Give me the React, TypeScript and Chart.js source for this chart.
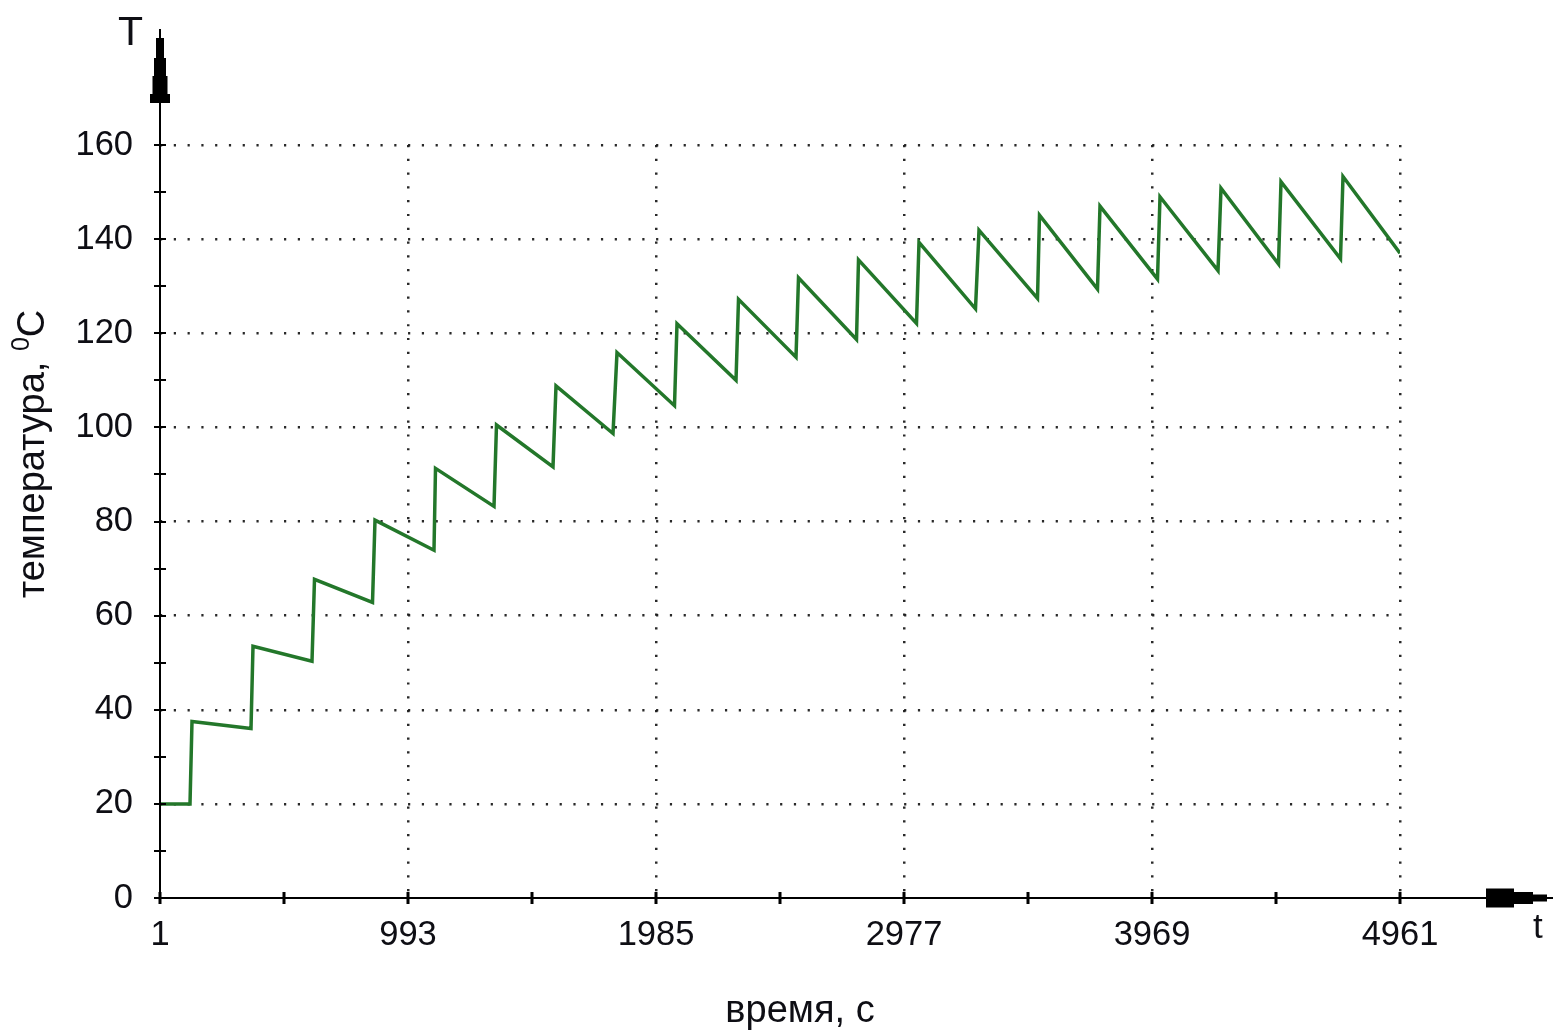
import React, { useEffect, useRef } from 'react';
import { Chart, registerables } from 'chart.js';

Chart.register(...registerables);

// Heating curve: time in seconds and temperature in °C (peaks and troughs of each heating pulse)
const timeSec = [
  1, 121, 129, 365, 373, 609, 619, 851, 861, 1097, 1103, 1337, 1347, 1573, 1585, 1813,
  1829, 2059, 2069, 2305, 2315, 2545, 2555, 2787, 2795, 3027, 3037, 3263, 3277, 3511,
  3519, 3751, 3761, 3991, 4001, 4233, 4245, 4475, 4485, 4723, 4733, 4961,
];
const tempC = [
  20, 20, 37.5, 36.0, 53.5, 50.3, 67.7, 62.8, 80.3, 73.9, 91.3, 83.2, 100.5, 91.6, 108.8, 98.7,
  115.9, 104.6, 122.0, 110.0, 127.2, 114.9, 131.8, 118.7, 135.6, 122.1, 139.3, 125.2, 141.9, 127.4,
  145.1, 129.4, 147.0, 131.5, 149.0, 133.3, 150.8, 134.7, 152.2, 135.8, 153.3, 137.0,
];

const xTickLabels = [1, 993, 1985, 2977, 3969, 4961];
const xMinorStep = 496;
const yTickLabels = [0, 20, 40, 60, 80, 100, 120, 140, 160];
const yMinorStep = 10;

const xTitle = 'время, с';
const yTitleMain = 'температура, ';
const yTitleSup = '0';
const yTitleUnit = 'C';
const yArrowLabel = 'T';
const xArrowLabel = 't';

const FONT = '"Liberation Sans", Arial, sans-serif';
const TEXT_COLOR = '#0e0e14';
const GRID_COLOR = 'rgba(30,30,30,0.95)';

const arrowAxesPlugin = {
  id: 'arrowAxes',
  afterDatasetsDraw(chart: any) {
    const { ctx, scales } = chart;
    const xs = scales.x;
    const ys = scales.y;
    const x0 = Math.round(xs.getPixelForValue(1));
    const y0 = Math.round(ys.getPixelForValue(0));
    ctx.save();
    ctx.strokeStyle = '#000';
    ctx.fillStyle = '#000';
    ctx.lineWidth = 2;

    // axis lines
    ctx.beginPath();
    ctx.moveTo(x0, y0);
    ctx.lineTo(x0, 29);
    ctx.moveTo(x0, y0);
    ctx.lineTo(1553, y0);
    ctx.stroke();

    // stepped arrow heads
    const ySteps = [
      [38, 58, 8],
      [58, 76, 12],
      [76, 94, 15],
      [94, 103, 20],
    ];
    ySteps.forEach(([a, b, w]) => ctx.fillRect(x0 - w / 2, a, w, b - a));
    const xSteps = [
      [1486, 1514, 19],
      [1514, 1533, 12],
      [1533, 1547, 7],
    ];
    xSteps.forEach(([a, b, h]) => ctx.fillRect(a, y0 - h / 2, b - a, h));

    // tick marks crossing the axes
    ctx.lineWidth = 2;
    ctx.beginPath();
    for (let v = 0; v <= 160; v += yMinorStep) {
      const py = Math.round(ys.getPixelForValue(v));
      ctx.moveTo(x0 - 6, py);
      ctx.lineTo(x0 + 6, py);
    }
    ctx.stroke();
    ctx.lineWidth = 3;
    ctx.beginPath();
    for (let t = 1; t <= 4961; t += xMinorStep) {
      const px = Math.round(xs.getPixelForValue(t));
      ctx.moveTo(px, y0 - 6);
      ctx.lineTo(px, y0 + 6);
    }
    ctx.stroke();

    // arrow letters
    ctx.fillStyle = TEXT_COLOR;
    ctx.textBaseline = 'alphabetic';
    ctx.textAlign = 'left';
    ctx.font = `41px ${FONT}`;
    ctx.fillText(yArrowLabel, 118, 45);
    ctx.font = `35px ${FONT}`;
    ctx.fillText(xArrowLabel, 1533, 938);

    // x title
    ctx.font = `38px ${FONT}`;
    ctx.textAlign = 'center';
    ctx.fillText(xTitle, 800, 1022);

    // y title, rotated, with superscript degree zero
    const mainFont = `38px ${FONT}`;
    const supFont = `25px ${FONT}`;
    ctx.font = mainFont;
    const wMain = ctx.measureText(yTitleMain).width;
    const wUnit = ctx.measureText(yTitleUnit).width;
    ctx.font = supFont;
    const wSup = ctx.measureText(yTitleSup).width;
    const total = wMain + wSup + wUnit;
    ctx.translate(44, 454);
    ctx.rotate(-Math.PI / 2);
    ctx.textAlign = 'left';
    let cx = -total / 2;
    ctx.font = mainFont;
    ctx.fillText(yTitleMain, cx, 0);
    cx += wMain;
    ctx.font = supFont;
    ctx.fillText(yTitleSup, cx, -15);
    cx += wSup;
    ctx.font = mainFont;
    ctx.fillText(yTitleUnit, cx, 0);
    ctx.restore();
  },
};

export default function App() {
  const canvasRef = useRef<HTMLCanvasElement | null>(null);

  useEffect(() => {
    document.body.style.margin = '0';
    const canvas = canvasRef.current;
    if (!canvas) return;
    const points = timeSec.map((t, i) => ({ x: t, y: tempC[i] }));

    const chart = new Chart(canvas, {
      type: 'line',
      data: {
        datasets: [
          {
            data: points,
            borderColor: '#23772a',
            borderWidth: 3.5,
            pointRadius: 0,
            tension: 0,
            fill: false,
          },
        ],
      },
      options: {
        responsive: false,
        animation: false,
        layout: { padding: { top: 145, right: 156, bottom: 0, left: 0 } },
        plugins: {
          legend: { display: false },
          tooltip: { enabled: false },
        },
        scales: {
          x: {
            type: 'linear',
            min: 1,
            max: 4961,
            afterBuildTicks: (s: any) => {
              s.ticks = xTickLabels.map((v) => ({ value: v }));
            },
            afterFit: (s: any) => {
              s.height = 132;
            },
            grid: {
              drawTicks: false,
              lineWidth: 2.5,
              color: (c: any) => (c.tick && c.tick.value === 1 ? 'rgba(0,0,0,0)' : GRID_COLOR),
            },
            border: { display: false, dash: [2.2, 11.58] },
            ticks: {
              autoSkip: false,
              maxRotation: 0,
              padding: 17,
              color: TEXT_COLOR,
              font: { family: FONT, size: 34.5 },
              callback: (v: any) => String(v),
            },
          },
          y: {
            type: 'linear',
            min: 0,
            max: 160,
            afterBuildTicks: (s: any) => {
              s.ticks = yTickLabels.map((v) => ({ value: v }));
            },
            afterFit: (s: any) => {
              s.width = 160;
            },
            grid: {
              drawTicks: false,
              lineWidth: 2.5,
              color: (c: any) => (c.tick && c.tick.value === 0 ? 'rgba(0,0,0,0)' : GRID_COLOR),
            },
            border: { display: false, dash: [2.2, 11.58] },
            ticks: {
              padding: 27,
              color: TEXT_COLOR,
              font: { family: FONT, size: 34.5 },
              callback: (v: any) => String(v),
            },
          },
        },
      },
      plugins: [arrowAxesPlugin],
    });

    return () => chart.destroy();
  }, []);

  return (
    <div style={{ width: 1556, height: 1030, background: '#fff' }}>
      <canvas ref={canvasRef} width={1556} height={1030} style={{ display: 'block' }} />
    </div>
  );
}
